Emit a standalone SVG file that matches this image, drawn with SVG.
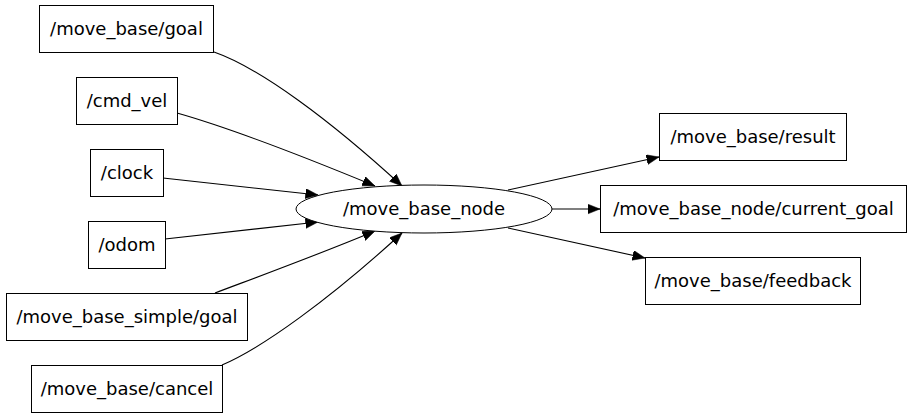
<svg xmlns="http://www.w3.org/2000/svg" width="911" height="418" viewBox="0 0 911 418">
<style>
.n{fill:#fff;stroke:#000;stroke-width:1}
.t{font-family:"DejaVu Sans",sans-serif;font-size:18px;fill:#000;text-anchor:middle}
.e{fill:none;stroke:#000;stroke-width:1.1;marker-end:url(#a)}
</style>
<defs>
<marker id="a" markerUnits="userSpaceOnUse" markerWidth="14" markerHeight="11" refX="12.5" refY="5" orient="auto">
<path d="M0,0 L12.5,5 L0,10 z" fill="#000" stroke="#000" stroke-width="0.5"/>
</marker>
</defs>
<rect width="911" height="418" fill="#fff"/>
<g id="connectors">
<path class="e" d="M214,52 C260,68 330,120 402,186"/>
<path class="e" d="M177,113 C230,128 300,155 375,186"/>
<path class="e" d="M163,178 L318,195"/>
<path class="e" d="M165,239 L318,222"/>
<path class="e" d="M215,293 C260,276 320,254 375,231"/>
<path class="e" d="M222,365 C262,348 330,299 402,233"/>
<path class="e" d="M508,190 L659,157"/>
<path class="e" d="M552,209 L600,209"/>
<path class="e" d="M508,228 L645,258"/>
</g>
<g id="move_base_goal"><rect class="n" x="39.5" y="5.5" width="174" height="47"/><text class="t" x="126.5" y="35">/move_base/goal</text></g>
<g id="cmd_vel"><rect class="n" x="76.5" y="77.5" width="101" height="47"/><text class="t" x="127" y="107">/cmd_vel</text></g>
<g id="clock"><rect class="n" x="90.5" y="149.5" width="73" height="47"/><text class="t" x="127" y="179">/clock</text></g>
<g id="odom"><rect class="n" x="88.5" y="221.5" width="77" height="47"/><text class="t" x="127" y="251">/odom</text></g>
<g id="move_base_simple_goal"><rect class="n" x="6.5" y="293.5" width="241" height="47"/><text class="t" x="127" y="323">/move_base_simple/goal</text></g>
<g id="move_base_cancel"><rect class="n" x="31.5" y="365.5" width="191" height="47"/><text class="t" x="127" y="395">/move_base/cancel</text></g>
<g id="move_base_node"><ellipse class="n" cx="424" cy="209" rx="128" ry="24"/><text class="t" x="424" y="215">/move_base_node</text></g>
<g id="move_base_result"><rect class="n" x="659.5" y="113.5" width="187" height="47"/><text class="t" x="753" y="143">/move_base/result</text></g>
<g id="move_base_node_current_goal"><rect class="n" x="600.5" y="185.5" width="306" height="47"/><text class="t" x="753.5" y="215">/move_base_node/current_goal</text></g>
<g id="move_base_feedback"><rect class="n" x="645.5" y="257.5" width="215" height="47"/><text class="t" x="753" y="287">/move_base/feedback</text></g>
</svg>
